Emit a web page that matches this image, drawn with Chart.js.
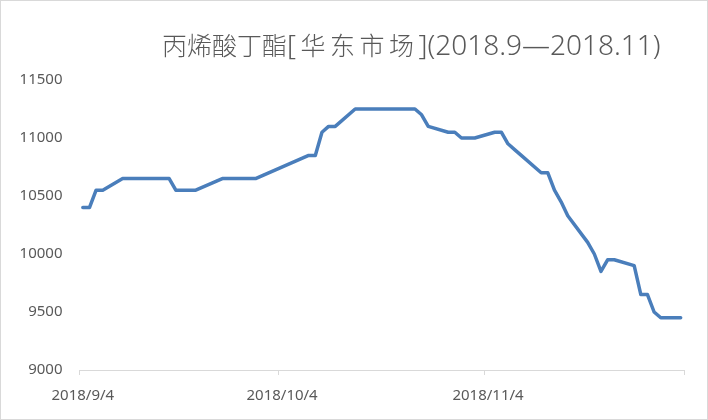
<!DOCTYPE html>
<html>
<head>
<meta charset="utf-8">
<script src="https://cdn.jsdelivr.net/npm/chart.js@4.4.0/dist/chart.umd.min.js"></script>
<style>
  html, body { margin: 0; padding: 0; background: #fff; }
  #wrap { width: 708px; height: 420px; }
</style>
</head>
<body>
<div id="wrap"><canvas id="priceChart" width="708" height="420"></canvas></div>
<script>
// 丙烯酸丁酯 华东市场 报价 (元/吨)
const chartTitle = '丙烯酸丁酯[华东市场](2018.9—2018.11)';

const dates = [
  '2018-09-04', '2018-09-05', '2018-09-06', '2018-09-07',
  '2018-09-10', '2018-09-11', '2018-09-12', '2018-09-13', '2018-09-14',
  '2018-09-17', '2018-09-18', '2018-09-19', '2018-09-20', '2018-09-21',
  '2018-09-25', '2018-09-26', '2018-09-27', '2018-09-28', '2018-09-29', '2018-09-30',
  '2018-10-08', '2018-10-09', '2018-10-10', '2018-10-11', '2018-10-12',
  '2018-10-15', '2018-10-16', '2018-10-17', '2018-10-18', '2018-10-19',
  '2018-10-22', '2018-10-23', '2018-10-24', '2018-10-25', '2018-10-26',
  '2018-10-29', '2018-10-30', '2018-10-31', '2018-11-01', '2018-11-02',
  '2018-11-05', '2018-11-06', '2018-11-07', '2018-11-08', '2018-11-09',
  '2018-11-12', '2018-11-13', '2018-11-14', '2018-11-15', '2018-11-16',
  '2018-11-19', '2018-11-20', '2018-11-21', '2018-11-22', '2018-11-23',
  '2018-11-26', '2018-11-27', '2018-11-28', '2018-11-29', '2018-11-30',
  '2018-12-03'
];

const prices = [
  10400, 10400, 10550, 10550,
  10650, 10650, 10650, 10650, 10650,
  10650, 10550, 10550, 10550, 10550,
  10650, 10650, 10650, 10650, 10650, 10650,
  10850, 10850, 11050, 11100, 11100,
  11250, 11250, 11250, 11250, 11250,
  11250, 11250, 11250, 11200, 11100,
  11050, 11050, 11000, 11000, 11000,
  11050, 11050, 10950, 10900, 10850,
  10700, 10700, 10550, 10450, 10330,
  10100, 10000, 9850, 9950, 9950,
  9900, 9650, 9650, 9500, 9450,
  9450
];

const tickDates = ['2018-09-04', '2018-10-04', '2018-11-04', '2018-12-04'];
const tickLabels = ['2018/9/4', '2018/10/4', '2018/11/4', ''];

const yMin = 9000;
const yMax = 11500;
const yStep = 500;

// 日期轴: 每天一格, 点放在格子中间
const startTime = Date.parse(dates[0]);
function dayIndex(d) {
  return (Date.parse(d) - startTime) / 86400000;
}

const points = dates.map((d, i) => ({ x: dayIndex(d) + 0.5, y: prices[i] }));
const tickValues = tickDates.map(dayIndex);

const txtColor = '#595959';
const lineGray = '#d9d9d9';

// 标题: 中文和西文分开画, 西文字号稍大 (像 Excel 里的 Calibri Light)
const cjkFont = '300 25px "Noto Sans CJK SC", sans-serif';
const latinFont = '300 28px "Noto Sans", "Noto Sans CJK SC", sans-serif';

// 背景, 边框和标题
const frame = {
  id: 'frame',
  beforeDraw(chart) {
    const c = chart.ctx;
    c.save();
    c.fillStyle = '#fff';
    c.fillRect(0, 0, chart.width, chart.height);
    c.strokeStyle = lineGray;
    c.lineWidth = 1;
    c.strokeRect(0.5, 0.5, chart.width - 1, chart.height - 1);
    c.restore();
  },
  afterDraw(chart) {
    const c = chart.ctx;
    c.save();
    c.fillStyle = txtColor;
    c.textAlign = 'left';
    c.textBaseline = 'alphabetic';
    let x = 162;
    let inBracket = false;
    for (const ch of chartTitle) {
      if (ch === '[') inBracket = true;
      if (ch === ']') inBracket = false;
      const cjk = /[\u4e00-\u9fff]/.test(ch);
      c.font = cjk ? cjkFont : latinFont;
      c.fillText(ch, x, 55);
      x += c.measureText(ch).width + (inBracket ? 4.5 : 0);
    }
    c.restore();
  }
};

new Chart(document.getElementById('priceChart'), {
  type: 'line',
  data: {
    datasets: [{
      label: chartTitle,
      data: points,
      borderColor: '#4A7EBB',
      borderWidth: 3.5,
      borderJoinStyle: 'round',
      borderCapStyle: 'round',
      pointRadius: 0,
      tension: 0,
      fill: false
    }]
  },
  options: {
    responsive: false,
    animation: false,
    layout: { padding: { left: 0, top: 80, right: 24, bottom: 0 } },
    plugins: {
      legend: { display: false },
      tooltip: { enabled: false },
      title: { display: false }
    },
    scales: {
      x: {
        type: 'linear',
        min: 0,
        max: tickValues[tickValues.length - 1],
        afterBuildTicks: (scale) => {
          scale.ticks = tickValues.map(v => ({ value: v }));
        },
        afterFit: (scale) => { scale.height = 50; },
        ticks: {
          autoSkip: false,
          maxRotation: 0,
          color: txtColor,
          font: { family: '"Noto Sans", sans-serif', size: 15 },
          padding: 12,
          labelOffset: 3.3,
          callback: (v, i) => tickLabels[i]
        },
        grid: {
          display: true,
          drawOnChartArea: false,
          drawTicks: true,
          tickLength: 5,
          color: lineGray
        },
        border: { display: true, color: lineGray, width: 1 }
      },
      y: {
        min: yMin,
        max: yMax,
        afterFit: (scale) => { scale.width = 79.5; },
        ticks: {
          stepSize: yStep,
          color: txtColor,
          font: { family: '"Noto Sans", sans-serif', size: 15 },
          padding: 17,
          callback: (v) => v
        },
        grid: { display: false, drawTicks: false },
        border: { display: false }
      }
    }
  },
  plugins: [frame]
});
</script>
</body>
</html>
